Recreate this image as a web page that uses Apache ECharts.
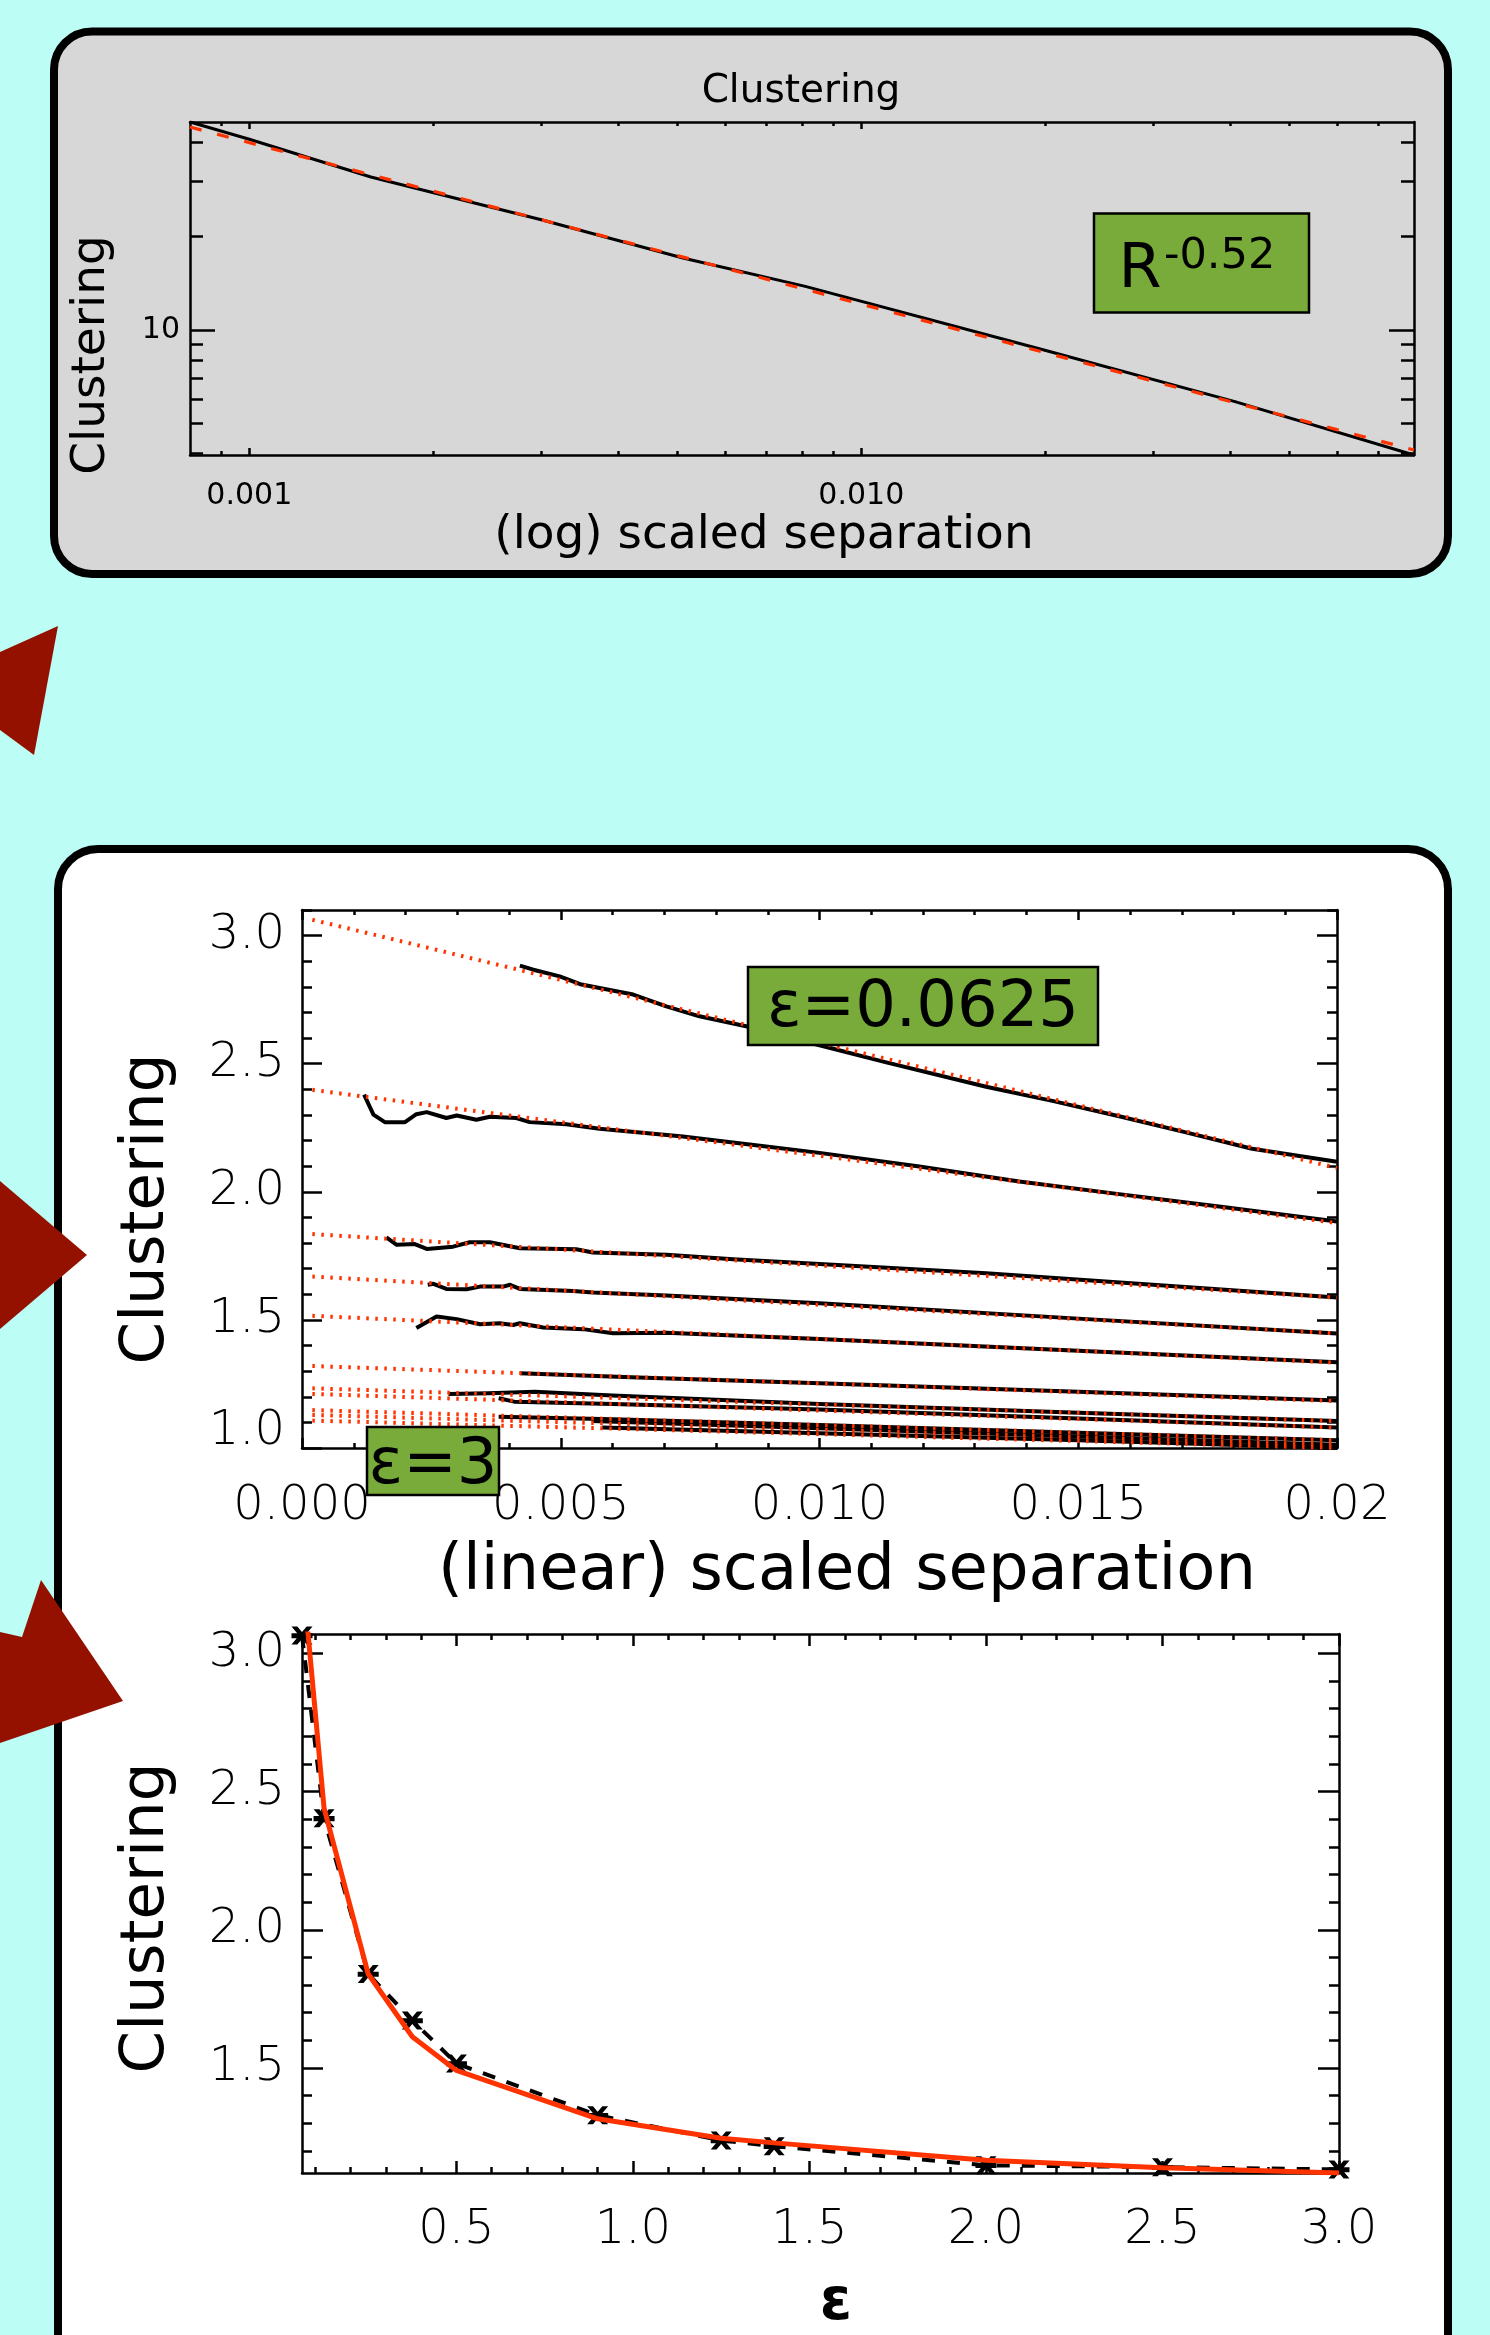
<!DOCTYPE html>
<html>
<head>
<meta charset="utf-8">
<script src="https://cdn.jsdelivr.net/npm/echarts@6/dist/echarts.min.js"></script>
<style>
html,body{margin:0;padding:0;background:#bcfdf6;}
#chart{width:1490px;height:2335px;}
</style>
</head>
<body>
<div id="chart"></div>
<script>
// ---------------- TOP PANEL (log-log) ----------------
const topSep   = [0.0008, 0.001, 0.00158, 0.002, 0.003, 0.00513, 0.0081, 0.0194, 0.0408, 0.08];
const topClust = [46.6, 41.0, 31.0, 27.6, 22.6, 17.0, 13.8, 8.73, 5.88, 3.96];
const topFitSep   = [0.0008, 0.08];
const topFitClust = [44.9, 4.11];
const topXTicks = [0.001, 0.01];
const topXTickLabels = ['0.001', '0.010'];
const topXMinor = [0.0009, 0.002, 0.003, 0.004, 0.005, 0.006, 0.007, 0.008, 0.009, 0.02, 0.03, 0.04, 0.05, 0.06, 0.07];
const topYTicks = [10];
const topYTickLabels = ['10'];
const topYMinor = [4, 5, 6, 7, 8, 9, 20, 30, 40];
const topXRange = [0.0008, 0.08];
const topYRange = [3.96, 46.6];

// ---------------- MIDDLE PANEL (linear) ----------------
const eps0_0625 = [[0.00421,2.883],[0.00447,2.867],[0.00498,2.841],[0.0054,2.809],[0.0064,2.77],[0.00704,2.724],[0.00768,2.685],[0.00858,2.646],[0.0100,2.572],[0.01129,2.505],[0.01322,2.41],[0.0145,2.355],[0.01579,2.295],[0.01708,2.232],[0.01836,2.168],[0.02,2.117]];
const eps0_125 = [[0.0012,2.379],[0.00138,2.301],[0.0016,2.272],[0.00199,2.272],[0.00221,2.303],[0.00241,2.311],[0.00279,2.288],[0.00299,2.298],[0.00337,2.281],[0.00363,2.293],[0.00414,2.288],[0.0044,2.272],[0.00511,2.264],[0.00575,2.246],[0.00736,2.216],[0.00897,2.177],[0.0100,2.152],[0.01193,2.099],[0.01386,2.040],[0.01579,1.991],[0.01772,1.943],[0.02,1.884]];
const eps0_25 = [[0.00163,1.822],[0.00183,1.793],[0.00218,1.796],[0.00241,1.777],[0.00292,1.786],[0.00324,1.803],[0.00363,1.803],[0.00421,1.780],[0.0053,1.776],[0.00562,1.763],[0.00704,1.754],[0.00833,1.737],[0.0100,1.718],[0.01322,1.682],[0.01644,1.637],[0.02,1.587]];
const eps0_375 = [[0.00243,1.637],[0.00254,1.641],[0.00279,1.621],[0.00318,1.620],[0.00344,1.630],[0.00389,1.630],[0.00402,1.637],[0.00421,1.621],[0.00524,1.613],[0.00562,1.607],[0.00704,1.595],[0.0100,1.565],[0.015,1.505],[0.02,1.447]];
const eps0_5 = [[0.00221,1.468],[0.0026,1.513],[0.00299,1.503],[0.00344,1.483],[0.00382,1.487],[0.00408,1.480],[0.00421,1.487],[0.00466,1.470],[0.00543,1.464],[0.00601,1.448],[0.00704,1.450],[0.0100,1.425],[0.015,1.380],[0.02,1.335]];
const eps0_9 = [[0.00421,1.292],[0.0065,1.275],[0.0100,1.253],[0.015,1.220],[0.02,1.185]];
const eps1_25 = [[0.00283,1.211],[0.0036,1.214],[0.0045,1.220],[0.006,1.205],[0.0100,1.172],[0.015,1.138],[0.02,1.105]];
const eps1_4 = [[0.0038,1.194],[0.0041,1.181],[0.006,1.172],[0.0100,1.150],[0.015,1.115],[0.02,1.080]];
const eps2_0 = [[0.0038,1.122],[0.006,1.112],[0.0100,1.090],[0.015,1.060],[0.02,1.030]];
const eps2_5 = [[0.0056,1.105],[0.0100,1.077],[0.015,1.045],[0.02,1.013]];
const eps3_0 = [[0.0058,1.080],[0.0100,1.058],[0.015,1.030],[0.02,1.000]];
const midCurves = [eps0_0625, eps0_125, eps0_25, eps0_375, eps0_5, eps0_9, eps1_25, eps1_4, eps2_0, eps2_5, eps3_0];
const fitX = [0.0002, 0.02];
const fitStartY = [3.062, 2.398, 1.835, 1.669, 1.516, 1.320, 1.233, 1.211, 1.148, 1.129, 1.107];
const fitEndY   = [2.093, 1.878, 1.587, 1.447, 1.333, 1.183, 1.105, 1.080, 1.030, 1.013, 1.000];
const midXTicks = [0, 0.005, 0.01, 0.015, 0.02];
const midXTickLabels = ['0.000', '0.005', '0.010', '0.015', '0.02'];
const midXMinor = [0.001,0.002,0.003,0.004,0.006,0.007,0.008,0.009,0.011,0.012,0.013,0.014,0.016,0.017,0.018,0.019];
const midYTicks = [1.0, 1.5, 2.0, 2.5, 3.0];
const midYTickLabels = ['1.0', '1.5', '2.0', '2.5', '3.0'];
const midYMinor = [1.1,1.2,1.3,1.4,1.6,1.7,1.8,1.9,2.1,2.2,2.3,2.4,2.6,2.7,2.8,2.9,3.1];
const midXRange = [0, 0.02];
const midYRange = [1.0, 3.1];

// ---------------- BOTTOM PANEL ----------------
const epsVals  = [0.0625, 0.125, 0.25, 0.375, 0.5, 0.9, 1.25, 1.4, 2.0, 2.5, 3.0];
const epsClust = [3.065, 2.403, 1.840, 1.672, 1.516, 1.329, 1.238, 1.217, 1.148, 1.141, 1.133];
const epsFit   = [3.31, 2.44, 1.840, 1.613, 1.491, 1.316, 1.246, 1.229, 1.166, 1.139, 1.120];
const botXTicks = [0.5, 1.0, 1.5, 2.0, 2.5, 3.0];
const botXTickLabels = ['0.5', '1.0', '1.5', '2.0', '2.5', '3.0'];
const botXMinor = [0.1,0.2,0.3,0.4,0.6,0.7,0.8,0.9,1.1,1.2,1.3,1.4,1.6,1.7,1.8,1.9,2.1,2.2,2.3,2.4,2.6,2.7,2.8,2.9];
const botYTicks = [1.5, 2.0, 2.5, 3.0];
const botYTickLabels = ['1.5', '2.0', '2.5', '3.0'];
const botYMinor = [1.2,1.3,1.4,1.6,1.7,1.8,1.9,2.1,2.2,2.3,2.4,2.6,2.7,2.8,2.9];
const botXRange = [0.0625, 3.0];
const botYRange = [1.12, 3.07];

// ---------------- styling ----------------
const FONT = "'DejaVu Sans', 'Noto Sans', sans-serif";
const RED = '#ff3300';
const AXW = 2.5;

function lookup(ticks, labels, tf) {
  return function (v) {
    for (let i = 0; i < ticks.length; i++) {
      if (Math.abs(tf(ticks[i]) - v) < 1e-6) return labels[i];
    }
    return '';
  };
}
const ident = v => v;

// builds 4 decoration axes (major+minor on both sides) for one dimension of a grid
function boxAxes(gridIndex, dim, c) {
  const sides = dim === 'x' ? ['bottom', 'top'] : ['left', 'right'];
  const out = [];
  sides.forEach(function (pos, si) {
    out.push({
      type: 'value', gridIndex: gridIndex, position: pos, min: c.min, max: c.max,
      axisLine: { show: true, onZero: false, lineStyle: { color: '#000', width: AXW } },
      axisTick: { show: true, inside: true, length: c.majorLen, customValues: c.majors, lineStyle: { color: '#000', width: AXW } },
      axisLabel: si === 0 ? Object.assign({
        show: true, customValues: c.majors, formatter: c.fmt, margin: c.margin,
        fontSize: c.fontSize, fontFamily: FONT, fontWeight: c.fontWeight, color: '#000'
      }, c.labelExtra || {}) : { show: false },
      splitLine: { show: false }
    });
    out.push({
      type: 'value', gridIndex: gridIndex, position: pos, min: c.min, max: c.max,
      axisLine: { show: false, onZero: false },
      axisTick: { show: true, inside: true, length: c.minorLen, customValues: c.minors, lineStyle: { color: '#000', width: AXW } },
      axisLabel: { show: false },
      splitLine: { show: false }
    });
  });
  return out;
}

const xAxes = [];
const yAxes = [];
// grid 0: hidden log data axes (index 0), decoration axes in log10 space (1..4)
xAxes.push({ type: 'log', gridIndex: 0, min: topXRange[0], max: topXRange[1], show: false });
yAxes.push({ type: 'log', gridIndex: 0, min: topYRange[0], max: topYRange[1], show: false });
xAxes.push(...boxAxes(0, 'x', {
  min: Math.log10(topXRange[0]), max: Math.log10(topXRange[1]),
  majors: topXTicks.map(Math.log10), minors: topXMinor.map(Math.log10),
  majorLen: 7, minorLen: 4, margin: 26, fontSize: 30, fontWeight: 'normal',
  fmt: lookup(topXTicks, topXTickLabels, Math.log10)
}));
yAxes.push(...boxAxes(0, 'y', {
  min: Math.log10(topYRange[0]), max: Math.log10(topYRange[1]),
  majors: topYTicks.map(Math.log10), minors: topYMinor.map(Math.log10),
  majorLen: 25, minorLen: 13, margin: 10, fontSize: 30, fontWeight: 'normal',
  fmt: lookup(topYTicks, topYTickLabels, Math.log10)
}));
// grid 1: indices 5..8 (5 = data axis)
xAxes.push(...boxAxes(1, 'x', {
  min: midXRange[0], max: midXRange[1], majors: midXTicks, minors: midXMinor,
  majorLen: 10, minorLen: 5, margin: 35, fontSize: 48, fontWeight: 200,
  fmt: lookup(midXTicks, midXTickLabels, ident)
}));
const midYFmt = lookup(midYTicks, midYTickLabels, ident);
yAxes.push(...boxAxes(1, 'y', {
  min: midYRange[0], max: midYRange[1], majors: midYTicks, minors: midYMinor,
  majorLen: 20, minorLen: 10, margin: 17, fontSize: 48, fontWeight: 200,
  fmt: function (v) { const s = midYFmt(v); return Math.abs(v - 1.0) < 1e-6 ? '{up|' + s + '}' : s; },
  labelExtra: { rich: { up: { fontSize: 48, fontFamily: FONT, fontWeight: 200, color: '#000', padding: [0, 0, 32, 0] } } }
}));
// grid 2: indices 9..12 (9 = data axis)
xAxes.push(...boxAxes(2, 'x', {
  min: botXRange[0], max: botXRange[1], majors: botXTicks, minors: botXMinor,
  majorLen: 12, minorLen: 6, margin: 34, fontSize: 48, fontWeight: 200,
  fmt: lookup(botXTicks, botXTickLabels, ident)
}));
yAxes.push(...boxAxes(2, 'y', {
  min: botYRange[0], max: botYRange[1], majors: botYTicks, minors: botYMinor,
  majorLen: 21, minorLen: 10, margin: 17, fontSize: 48, fontWeight: 200,
  fmt: lookup(botYTicks, botYTickLabels, ident)
}));

const series = [];
// top panel
series.push({
  type: 'line', xAxisIndex: 0, yAxisIndex: 0, showSymbol: false, animation: false,
  data: topSep.map((x, i) => [x, topClust[i]]),
  lineStyle: { color: '#000', width: 3 }, z: 3
});
series.push({
  type: 'line', xAxisIndex: 0, yAxisIndex: 0, showSymbol: false, animation: false,
  data: topFitSep.map((x, i) => [x, topFitClust[i]]),
  lineStyle: { color: RED, width: 3.2, type: [12, 16] }, z: 4
});
// middle panel
midCurves.forEach(function (c) {
  series.push({
    type: 'line', xAxisIndex: 5, yAxisIndex: 5, showSymbol: false, animation: false,
    data: c, lineStyle: { color: '#000', width: 4, join: 'round' }, z: 3
  });
});
fitStartY.forEach(function (y0, i) {
  series.push({
    type: 'line', xAxisIndex: 5, yAxisIndex: 5, showSymbol: false, animation: false,
    data: [[fitX[0], y0], [fitX[1], fitEndY[i]]],
    lineStyle: { color: RED, width: 4, type: [2.5, 6.5] }, z: 4
  });
});
// bottom panel
const STAR = 'path://M0,6L18,6L18,10.5L0,10.5Z M0,0L5,0L18,16L13,16Z M13,0L18,0L5,16L0,16Z';
series.push({
  type: 'line', xAxisIndex: 9, yAxisIndex: 9, animation: false,
  data: epsVals.map((x, i) => [x, epsClust[i]]),
  symbol: STAR, symbolSize: [21, 18], showSymbol: true,
  itemStyle: { color: '#000' },
  lineStyle: { color: '#000', width: 4, type: [13, 12] }, z: 3
});
series.push({
  type: 'line', xAxisIndex: 9, yAxisIndex: 9, showSymbol: false, animation: false,
  data: epsVals.map((x, i) => [x, epsFit[i]]),
  lineStyle: { color: RED, width: 5 }, z: 4
});

function label(text, x, y, size, opts) {
  return Object.assign({
    type: 'text', x: x, y: y, z: 101,
    style: Object.assign({ text: text, fontSize: size, fontFamily: FONT, fill: '#000', align: 'center', verticalAlign: 'middle' }, (opts && opts.style) || {})
  }, (opts && opts.el) || {});
}

const graphics = [
  // panels
  { type: 'rect', z: -10, shape: { x: 54, y: 31.5, width: 1394, height: 542.5, r: 38 }, style: { fill: '#d7d7d7', stroke: '#000', lineWidth: 8 } },
  { type: 'rect', z: -10, shape: { x: 58, y: 849, width: 1390, height: 1600, r: 40 }, style: { fill: '#ffffff', stroke: '#000', lineWidth: 8 } },
  // decorative arrows
  { type: 'polygon', z: 50, shape: { points: [[0, 652], [58, 626], [34, 755], [0, 730]] }, style: { fill: '#941100' } },
  { type: 'polygon', z: 50, shape: { points: [[0, 1181], [87, 1255], [0, 1329]] }, style: { fill: '#941100' } },
  { type: 'polygon', z: 50, shape: { points: [[0, 1632], [22, 1637], [41, 1580], [123, 1701], [0, 1743]] }, style: { fill: '#941100' } },
  // top panel texts
  label('Clustering', 801, 92, 39),
  label('(log) scaled separation', 764, 536, 47),
  label('Clustering', 92, 355, 47, { el: { rotation: Math.PI / 2 } }),
  { type: 'rect', z: 100, shape: { x: 1094, y: 213.5, width: 215, height: 99 }, style: { fill: '#78ab3a', stroke: '#000', lineWidth: 2.5 } },
  label('R', 1140, 271, 62),
  label('-0.52', 1164, 257, 43, { style: { align: 'left' } }),
  // middle panel texts
  label('Clustering', 147, 1209, 61, { el: { rotation: Math.PI / 2 } }),
  label('(linear) scaled separation', 847, 1572, 64),
  { type: 'rect', z: 100, shape: { x: 748, y: 967, width: 350, height: 78 }, style: { fill: '#78ab3a', stroke: '#000', lineWidth: 2.5 } },
  label('ε=0.0625', 923, 1009, 64),
  { type: 'rect', z: 100, shape: { x: 367, y: 1427, width: 132, height: 68 }, style: { fill: '#78ab3a', stroke: '#000', lineWidth: 2.5 } },
  label('ε=3', 433, 1466, 64),
  // bottom panel texts
  label('Clustering', 147, 1918, 61, { el: { rotation: Math.PI / 2 } }),
  label('ε', 836, 2304, 58, { style: { fontWeight: 'bold' } })
];

const chart = echarts.init(document.getElementById('chart'), null, { renderer: 'canvas' });
chart.setOption({
  animation: false,
  backgroundColor: '#bcfdf6',
  grid: [
    { left: 190, top: 122, width: 1224, height: 333, containLabel: false },
    { left: 302, top: 910, width: 1035, height: 538, containLabel: false },
    { left: 302, top: 1634, width: 1037, height: 539, containLabel: false }
  ],
  xAxis: xAxes,
  yAxis: yAxes,
  series: series,
  graphic: { elements: graphics }
});
</script>
</body>
</html>
